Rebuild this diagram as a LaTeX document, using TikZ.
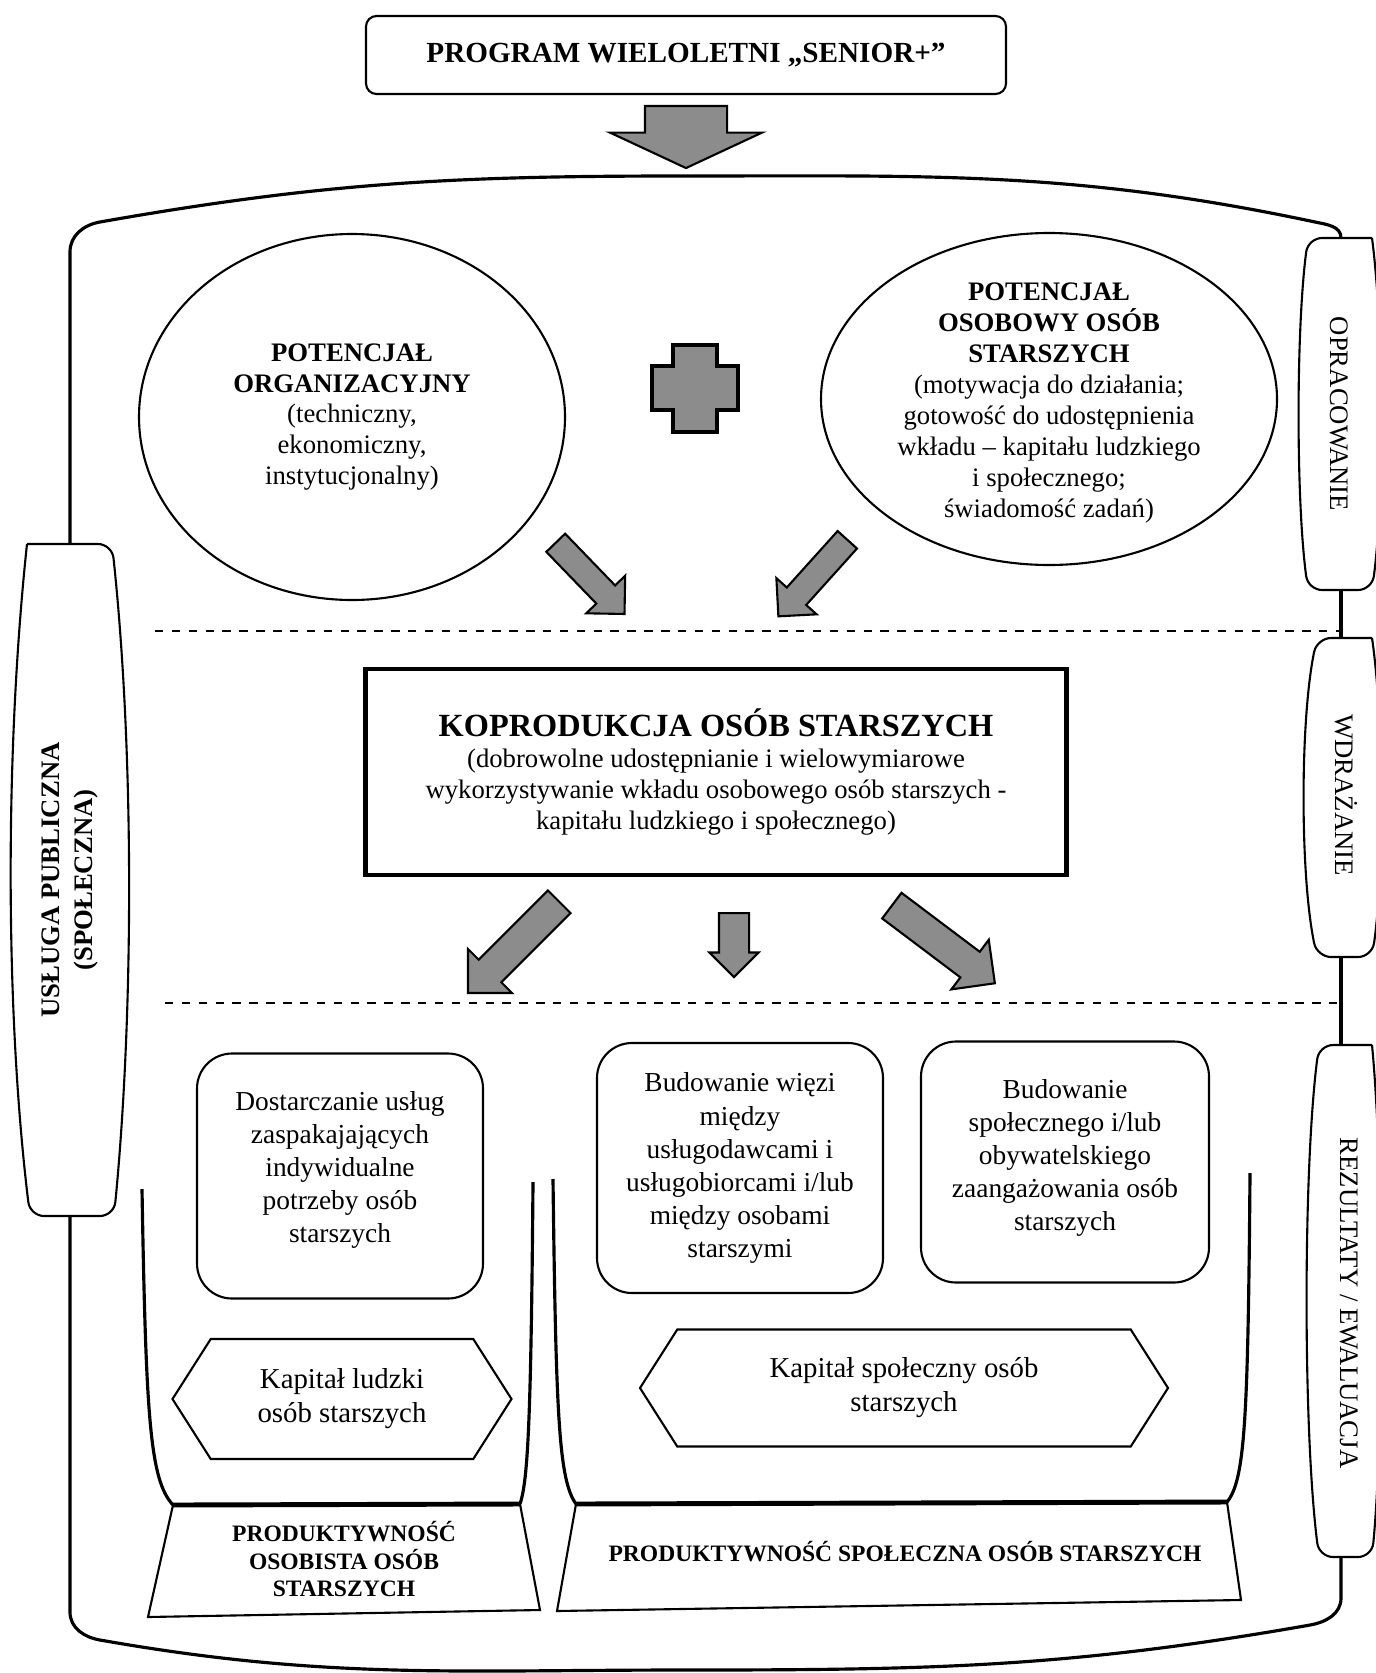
\documentclass[tikz,border=0pt]{standalone}
\usepackage{fontspec}
\setmainfont{Liberation Serif}
\usetikzlibrary{shapes.geometric,shapes.arrows,shapes.symbols}

\begin{document}
\begin{tikzpicture}[x=0.1mm, y=0.1mm]
	\tikzstyle{every node}+=[inner sep=0pt, align=center, font=\fontsize{7.8}{9.4}\selectfont]
	\tikzstyle{heavyline}=[line width=0.9pt]
	\tikzstyle{lightline}=[line width=0.6pt]
	\tikzstyle{separator}=[line width=0.5pt, dash pattern=on 2.4pt off 2.4pt]
	\tikzstyle{blockarrow}=[single arrow, draw, fill=black!45, line width=0.6pt, anchor=tail, inner xsep=0pt, single arrow tip angle=90]
	\tikzstyle{potential}=[ellipse, draw, lightline]
	\tikzstyle{effect}=[draw, lightline, rounded corners=0.35cm]
	\tikzstyle{capital}=[signal, signal to=west and east, signal pointer angle=115, draw, lightline, font=\fontsize{8.2}{9.7}\selectfont]
	\tikzstyle{productivity}=[font=\bfseries\fontsize{6.7}{7.8}\selectfont]
	\useasboundingbox (0,0) rectangle (1376,-1673);
	\node [draw, lightline, rounded corners=3pt, minimum width=6.4cm, minimum height=0.78cm, font=\bfseries\fontsize{8.3}{10}\selectfont] (program) at (686,-55) {PROGRAM WIELOLETNI „SENIOR+”};
	\node [blockarrow, minimum height=0.62cm, inner ysep=0.4cm, single arrow head extend=0.35cm, single arrow tip angle=130, rotate=-90] (programarrow) at (686,-105) {};
	\draw [heavyline] (70,-544) -- (70,-252) to[out=90,in=190] (100,-222) to[out=10,in=180] (683,-176) to[out=0,in=168] (1315,-222) to[out=-12,in=90] (1341,-238);
	\draw [heavyline] (70,-1216) -- (70,-1612) to[out=-90,in=170] (100,-1640) to[out=-10,in=180] (683,-1670) to[out=0,in=190] (1310,-1625) to[out=10,in=-90] (1341,-1598) -- (1341,-1557);
	\draw [heavyline] (1341,-590) -- (1341,-638);
	\draw [heavyline] (1341,-957) -- (1341,-1045);
	\draw [lightline, rounded corners=4pt] (27,-544) .. controls (5,-750) and (5,-1010) .. (30,-1216) -- (114,-1216) .. controls (134,-1010) and (134,-750) .. (112,-544) -- (27,-544);
	\draw [lightline, rounded corners=4pt] (1372,-238) -- (1308,-238) .. controls (1296,-330) and (1296,-500) .. (1308,-590) -- (1372,-590) .. controls (1384,-500) and (1384,-330) .. (1372,-238);
	\draw [lightline, rounded corners=4pt] (1372,-638) -- (1317,-638) .. controls (1300,-720) and (1300,-875) .. (1317,-957) -- (1372,-957) .. controls (1384,-875) and (1384,-720) .. (1372,-638);
	\draw [lightline, rounded corners=4pt] (1372,-1045) -- (1319,-1045) .. controls (1303,-1170) and (1303,-1430) .. (1319,-1557) -- (1372,-1557) .. controls (1384,-1430) and (1384,-1170) .. (1372,-1045);
	\node [rotate=90, font=\bfseries\fontsize{7.6}{9.4}\selectfont] (uslugatext) at (70,-880) {USŁUGA PUBLICZNA\\(SPOŁECZNA)};
	\node [rotate=-90, font=\fontsize{7.6}{9.4}\selectfont] (opractext) at (1339,-414) {OPRACOWANIE};
	\node [rotate=-90, font=\fontsize{7.6}{9.4}\selectfont] (wdraztext) at (1346,-795) {WDRAŻANIE};
	\node [rotate=-90, font=\fontsize{7.6}{9.4}\selectfont] (rezultext) at (1349,-1303) {REZULTATY / EWALUACJA};
	\node [potential, minimum width=4.26cm, minimum height=3.66cm] (orgpot) at (352,-417) {};
	\node [font=\fontsize{7.6}{8.8}\selectfont] (orgtext) at (orgpot) {\textbf{POTENCJAŁ}\\\textbf{ORGANIZACYJNY}\\(techniczny,\\ekonomiczny,\\instytucjonalny)};
	\node [potential, minimum width=4.56cm, minimum height=3.32cm] (osobpot) at (1049,-399) {};
	\node [font=\fontsize{7.6}{8.8}\selectfont] (osobtext) at (1049,-403) {\textbf{POTENCJAŁ}\\\textbf{OSOBOWY OSÓB}\\\textbf{STARSZYCH}\\(motywacja do działania;\\gotowość do udostępnienia\\wkładu – kapitału ludzkiego\\i społecznego;\\świadomość zadań)};
	\draw [line width=1pt, fill=black!45] (673,-345) -- (717,-345) -- (717,-366) -- (738,-366) -- (738,-410) -- (717,-410) -- (717,-432) -- (673,-432) -- (673,-410) -- (652,-410) -- (652,-366) -- (673,-366) -- cycle;
	\node [blockarrow, minimum height=0.99cm, inner ysep=0.12cm, single arrow head extend=0.14cm, rotate=-46] (orgarrow) at (555,-542) {};
	\node [blockarrow, minimum height=1.03cm, inner ysep=0.12cm, single arrow head extend=0.14cm, rotate=-132] (osobarrow) at (848,-539) {};
	\draw [separator] (155,-631) -- (1341,-631);
	\node [draw, line width=1.3pt, minimum width=7.01cm, minimum height=2.06cm, font=\fontsize{7.6}{8.8}\selectfont] (koprod) at (716,-772) {{\bfseries\fontsize{9.2}{10.5}\selectfont KOPRODUKCJA OSÓB STARSZYCH}\\(dobrowolne udostępnianie i wielowymiarowe\\wykorzystywanie wkładu osobowego osób starszych -\\kapitału ludzkiego i społecznego)};
	\node [blockarrow, minimum height=1.29cm, inner ysep=0.15cm, single arrow head extend=0.15cm, rotate=-135] (humanarrow) at (560,-901) {};
	\node [blockarrow, minimum height=0.64cm, inner ysep=0.14cm, single arrow head extend=0.095cm, rotate=-90] (bondarrow) at (734,-912) {};
	\node [blockarrow, minimum height=1.29cm, inner ysep=0.15cm, single arrow head extend=0.15cm, rotate=-37] (civicarrow) at (891,-905) {};
	\draw [separator] (165,-1003) -- (1341,-1003);
	\node [effect, minimum width=2.86cm, minimum height=2.45cm] (services) at (340,-1176) {Dostarczanie usług\\zaspakajających\\indywidualne\\potrzeby osób\\starszych\\[-0.15cm]};
	\node [effect, minimum width=2.86cm, minimum height=2.50cm] (bonds) at (740,-1168) {Budowanie więzi\\między\\usługodawcami i\\usługobiorcami i/lub\\między osobami\\starszymi};
	\node [effect, minimum width=2.88cm, minimum height=2.41cm] (engagement) at (1065,-1162) {Budowanie\\społecznego i/lub\\obywatelskiego\\zaangażowania osób\\starszych\\[-0.19cm]};
	\node [capital, minimum width=3.39cm, minimum height=1.20cm] (humancap) at (342,-1399) {Kapitał ludzki\\osób starszych};
	\node [capital, minimum width=5.28cm, minimum height=1.17cm] (socialcap) at (904,-1388) {Kapitał społeczny osób\\starszych};
	\coordinate (perstl) at (173,-1505);
	\coordinate (perstr) at (520,-1504);
	\coordinate (socptl) at (576,-1504);
	\coordinate (socptr) at (1227,-1502);
	\draw [lightline] (perstl) -- (148,-1617) -- (540,-1610) -- (perstr);
	\draw [lightline] (socptl) -- (557,-1611) -- (1241,-1600) -- (socptr);
	\node [productivity] (persprod) at (344,-1559) {PRODUKTYWNOŚĆ\\OSOBISTA OSÓB\\STARSZYCH};
	\node [productivity] (socprod) at (905,-1552) {PRODUKTYWNOŚĆ SPOŁECZNA OSÓB STARSZYCH};
	\draw [heavyline] (142,-1189) .. controls (146,-1420) and (150,-1480) .. (perstl);
	\draw [heavyline] (533,-1182) .. controls (531,-1420) and (528,-1480) .. (perstr);
	\draw [line width=1.4pt] (perstl) -- (perstr);
	\draw [heavyline] (553,-1179) .. controls (556,-1420) and (559,-1480) .. (socptl);
	\draw [heavyline] (1250,-1173) .. controls (1248,-1420) and (1245,-1480) .. (socptr);
	\draw [line width=1.4pt] (socptl) -- (socptr);
\end{tikzpicture}
\end{document}
